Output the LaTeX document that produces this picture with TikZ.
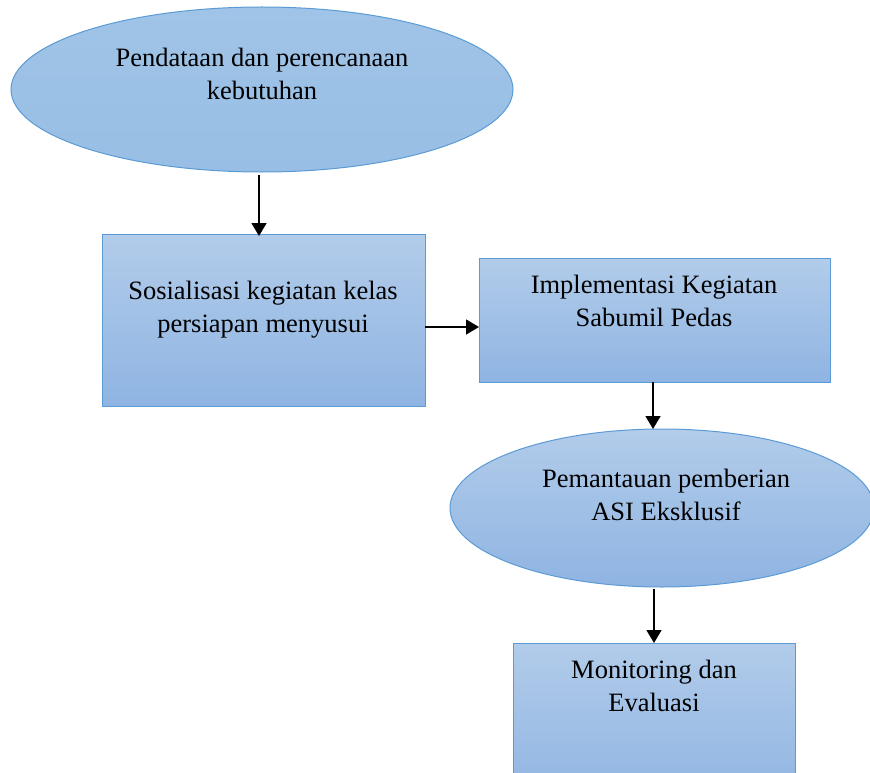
\documentclass[tikz,border=0pt]{standalone}
\usepackage{fontspec}
\setmainfont{Liberation Serif}
\usetikzlibrary{shapes.geometric,arrows.meta}
\definecolor{boxtop}{RGB}{178,204,234}
\definecolor{boxbot}{RGB}{143,180,226}
\definecolor{ovaltop}{RGB}{160,196,231}
\definecolor{ovalbot}{RGB}{152,190,229}
\definecolor{edgeblue}{RGB}{91,155,213}
\tikzset{
  x=1pt, y=-1pt,
  shapebox/.style={draw=edgeblue, line width=1pt, top color=boxtop, bottom color=boxbot, inner sep=0pt, outer sep=0pt},
  ovalbox/.style={shapebox, ellipse},
  rectbox/.style={shapebox, rectangle},
  label/.style={anchor=base, align=center, font=\fontsize{26.5}{33}\selectfont, inner sep=0pt},
  flow/.style={-{Triangle[length=13pt,width=15pt]}, line width=1.5pt, black},
}
\begin{document}
\begin{tikzpicture}
\useasboundingbox (0,0) rectangle (870,773);
% shapes
\node[ovalbox, top color=ovaltop, bottom color=ovalbot, minimum width=502pt, minimum height=165pt] (e1) at (262,89.5) {};
\node[rectbox, minimum width=323pt, minimum height=172pt] (b1) at (263.5,320) {};
\node[rectbox, minimum width=351pt, minimum height=124pt] (b2) at (654.5,320) {};
\node[ovalbox, minimum width=424pt, minimum height=158pt] (e2) at (662,508) {};
\node[rectbox, minimum width=282pt, minimum height=160pt] (b3) at (654,723) {};
% texts (base anchor = baseline of last line)
\node[label] (t1) at (262,100) {Pendataan dan perencanaan\\kebutuhan};
\node[label] (t2) at (263,332) {Sosialisasi kegiatan kelas\\persiapan menyusui};
\node[label] (t3) at (654,326) {Implementasi Kegiatan\\Sabumil Pedas};
\node[label] (t4) at (666,520.5) {Pemantauan pemberian\\ASI Eksklusif};
\node[label] (t5) at (654,711.5) {Monitoring dan\\Evaluasi};
% connectors
\coordinate (a1s) at (259,175);
\coordinate (a1e) at (259,236);
\draw[flow] (a1s) -- (a1e);
\draw[flow] (b1.east |- 0,327) -- (b2.west |- 0,327);
\draw[flow] (b2.south -| 653,0) -- (e2.north -| 653,0);
\draw[flow] ([yshift=-2pt]e2.south -| 654,0) -- (b3.north -| 654,0);
\end{tikzpicture}
\end{document}
